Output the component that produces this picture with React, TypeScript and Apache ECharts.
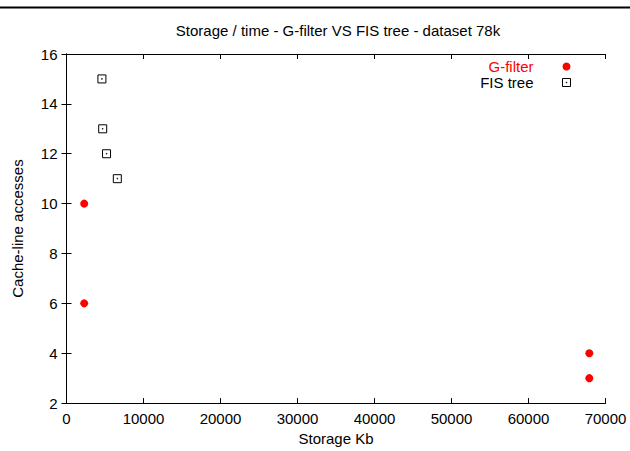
import { useEffect, useRef } from "react";
import * as echarts from "echarts";

const titleText = "Storage / time - G-filter VS FIS tree - dataset 78k";
const xAxisName = "Storage Kb";
const yAxisName = "Cache-line accesses";
const seriesNames = ["G-filter", "FIS tree"];

const xMin = 0;
const xMax = 70000;
const xStep = 10000;
const yMin = 2;
const yMax = 16;
const yStep = 2;

const gFilterStorage = [2300, 2300, 67900, 67900];
const gFilterAccesses = [10, 6, 4, 3];
const fisStorage = [4600, 4700, 5200, 6600];
const fisAccesses = [15, 13, 12, 11];

const FONT = "'Liberation Sans', Arial, sans-serif";
const FS = 15;
const SQUARE_DOT = "path://M0,0L10,0L10,10L0,10Z M4.6,4.6L5.4,4.6L5.4,5.4L4.6,5.4Z";

export default function App() {
  const ref = useRef<HTMLDivElement>(null);

  useEffect(() => {
    document.body.style.margin = "0";
    if (!ref.current) return;
    const chart = echarts.init(ref.current, null, { renderer: "svg" });

    const gData = gFilterStorage.map((x, i) => [x, gFilterAccesses[i]]);
    const fData = fisStorage.map((x, i) => [x, fisAccesses[i]]);

    const axisLine = { show: true, lineStyle: { color: "#000", width: 1 } };
    const axisTick = { show: true, inside: true, length: 5, lineStyle: { color: "#000", width: 1 } };

    chart.setOption({
      animation: false,
      backgroundColor: "#fff",
      textStyle: { fontFamily: FONT, color: "#000" },
      title: {
        text: titleText,
        left: 338,
        textAlign: "center",
        top: 23,
        padding: 0,
        textStyle: { fontSize: FS, fontWeight: "normal", color: "#000", fontFamily: FONT },
      },
      grid: { left: 66.5, right: 24.5, top: 54, bottom: 45.5, containLabel: false },
      legend: {
        orient: "vertical",
        align: "right",
        right: 59,
        top: 59,
        padding: 0,
        itemWidth: 56,
        itemHeight: 8,
        itemGap: 1,
        selectedMode: false,
        textStyle: { fontSize: FS, lineHeight: 14, fontFamily: FONT },
        data: [
          {
            name: seriesNames[0],
            icon: "circle",
            itemStyle: { color: "#ff0000", opacity: 1 },
            textStyle: { color: "#ff0000" },
          },
          {
            name: seriesNames[1],
            icon: SQUARE_DOT,
            itemStyle: { color: "transparent", borderColor: "#000", borderWidth: 1, opacity: 1 },
            textStyle: { color: "#000" },
          },
        ],
      },
      xAxis: [
        {
          type: "value",
          min: xMin,
          max: xMax,
          interval: xStep,
          position: "bottom",
          name: xAxisName,
          nameLocation: "middle",
          nameGap: 24,
          nameTextStyle: { fontSize: FS, color: "#000", fontFamily: FONT },
          axisLine,
          axisTick,
          splitLine: { show: false },
          axisLabel: {
            fontSize: FS,
            color: "#000",
            margin: 8,
            fontFamily: FONT,
            formatter: (v: number) => String(v),
          },
        },
        {
          type: "value",
          min: xMin,
          max: xMax,
          interval: xStep,
          position: "top",
          axisLine,
          axisTick,
          splitLine: { show: false },
          axisLabel: { show: false },
        },
      ],
      yAxis: [
        {
          type: "value",
          min: yMin,
          max: yMax,
          interval: yStep,
          position: "left",
          name: yAxisName,
          nameLocation: "middle",
          nameGap: 42,
          nameTextStyle: { fontSize: FS, color: "#000", fontFamily: FONT },
          axisLine,
          axisTick,
          splitLine: { show: false },
          axisLabel: {
            fontSize: FS,
            color: "#000",
            margin: 9,
            fontFamily: FONT,
            formatter: (v: number) => String(v),
          },
        },
        {
          type: "value",
          min: yMin,
          max: yMax,
          interval: yStep,
          position: "right",
          axisLine,
          axisTick,
          splitLine: { show: false },
          axisLabel: { show: false },
        },
      ],
      graphic: [
        {
          type: "line",
          shape: { x1: 0, y1: 7.5, x2: 630, y2: 7.5 },
          style: { stroke: "#000", lineWidth: 2 },
          silent: true,
        },
      ],
      series: [
        {
          name: seriesNames[0],
          type: "scatter",
          xAxisIndex: 0,
          yAxisIndex: 0,
          symbol: "circle",
          symbolSize: 8,
          itemStyle: { color: "#ff0000", opacity: 1 },
          data: gData,
        },
        {
          name: seriesNames[1],
          type: "scatter",
          xAxisIndex: 0,
          yAxisIndex: 0,
          symbol: SQUARE_DOT,
          symbolSize: 8,
          itemStyle: { color: "transparent", borderColor: "#000", borderWidth: 1, opacity: 1 },
          data: fData,
        },
      ],
    });

    return () => {
      chart.dispose();
    };
  }, []);

  return <div ref={ref} style={{ width: 630, height: 451 }} />;
}
